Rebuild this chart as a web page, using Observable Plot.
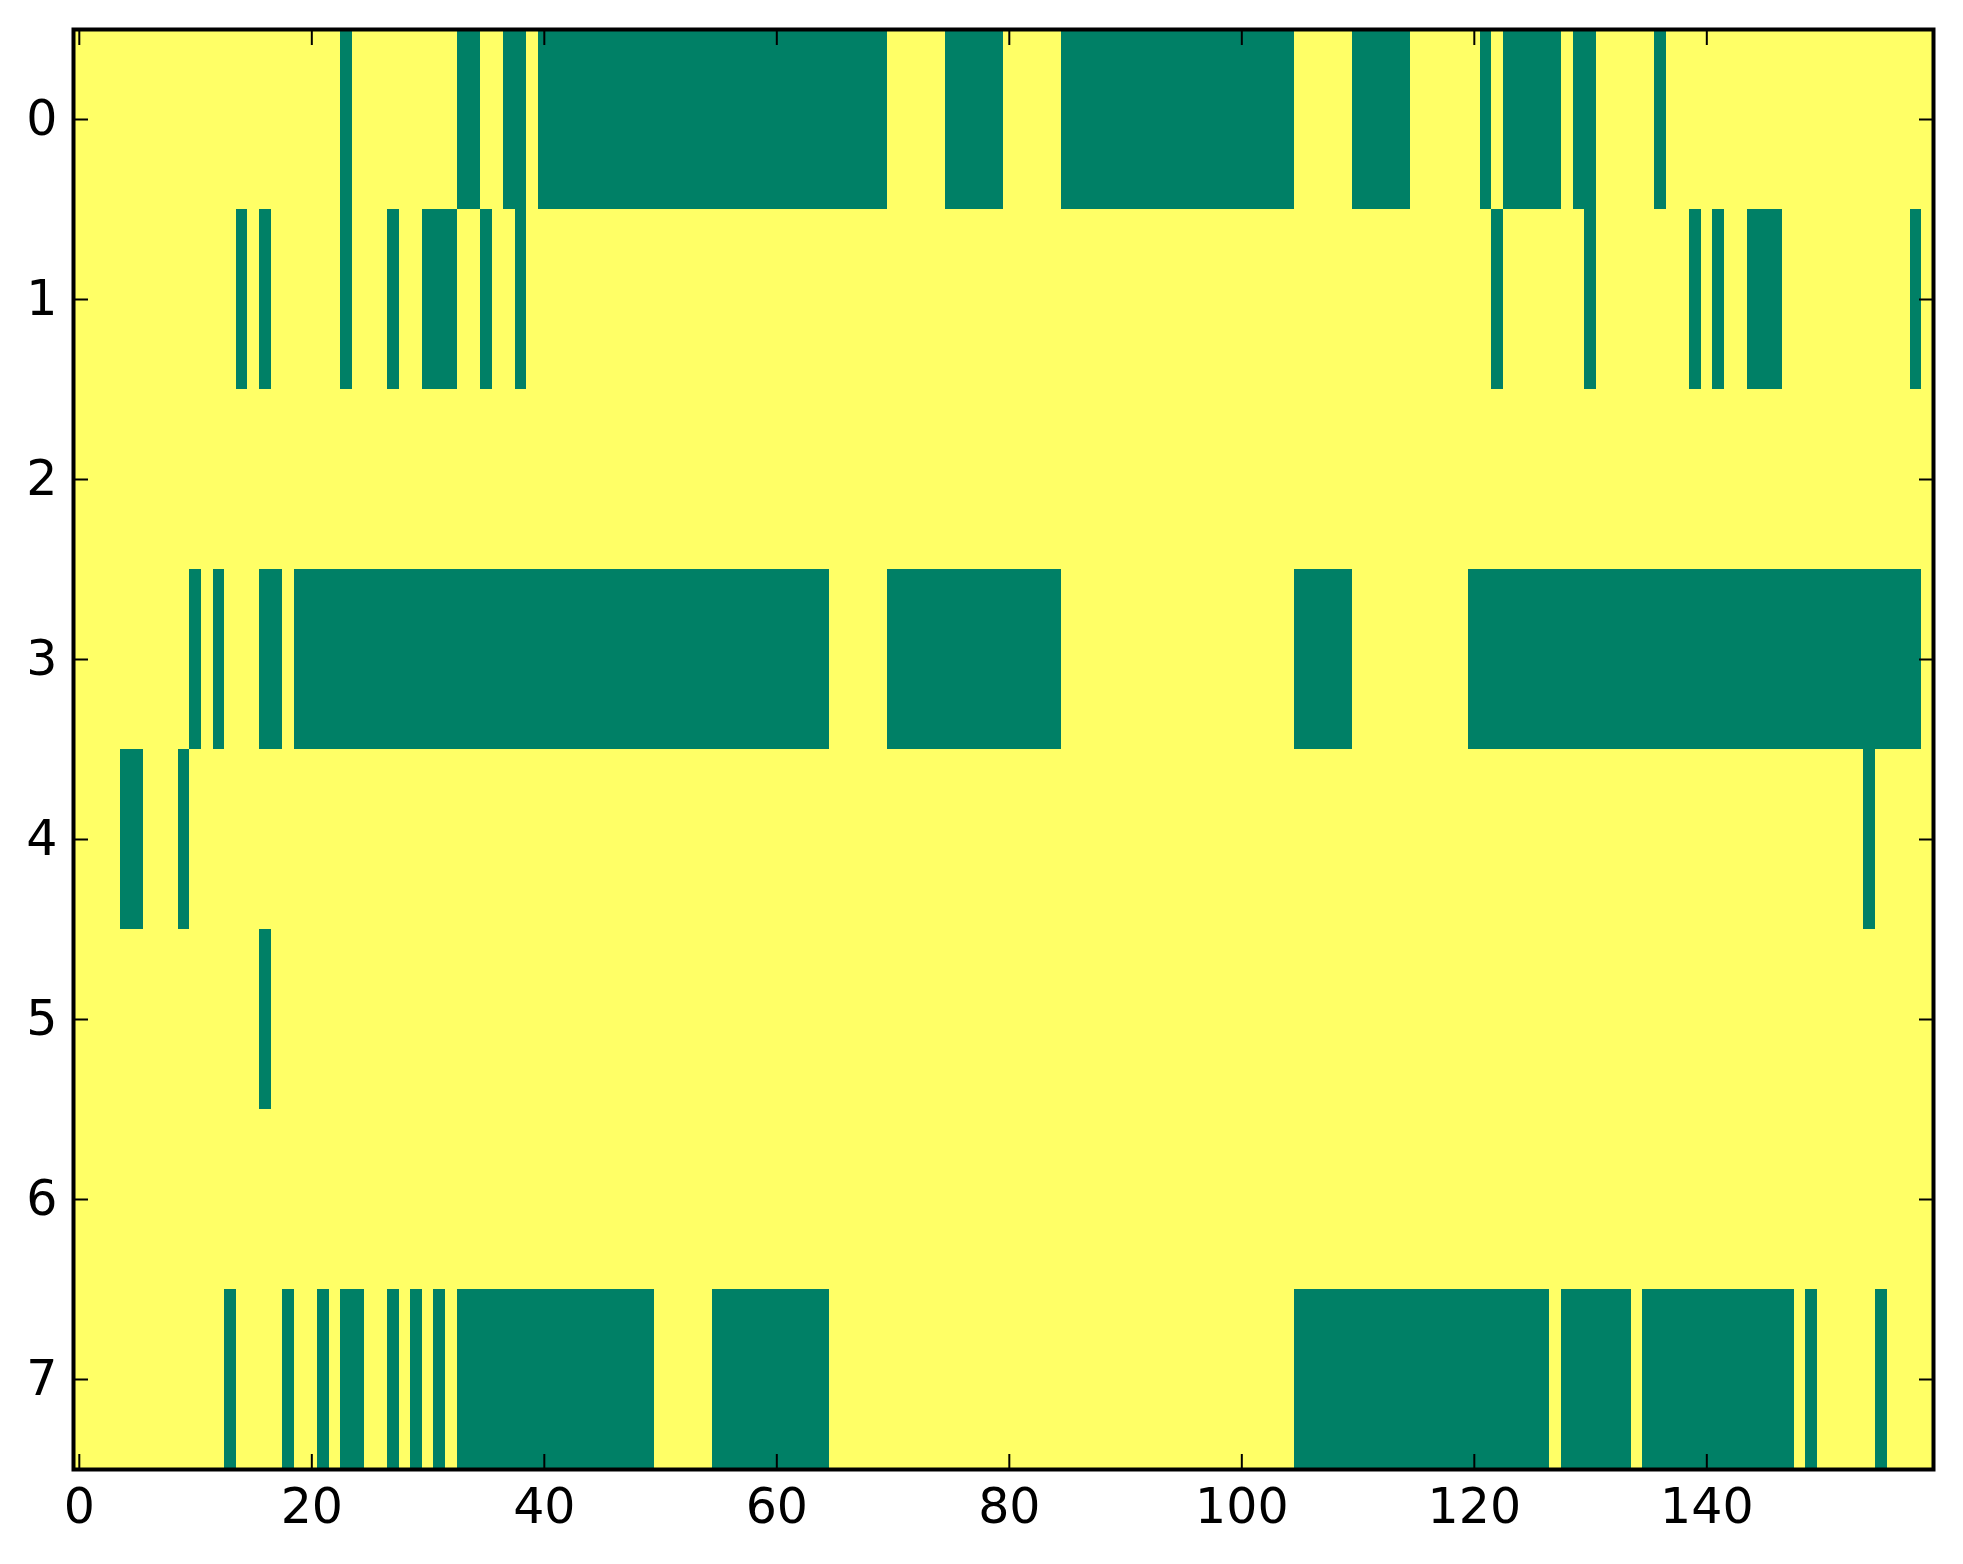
<!DOCTYPE html>
<html>
<head>
<meta charset="utf-8">
<script src="https://cdn.jsdelivr.net/npm/d3@7"></script>
<script src="https://cdn.jsdelivr.net/npm/@observablehq/plot@0.6"></script>
<style>
  html, body { margin: 0; padding: 0; background: #ffffff; }
  #chart svg { display: block; }
</style>
</head>
<body>
<div id="chart"></div>
<script>
// Binary matrix (0 = green, 1 = yellow), 8 rows x 160 columns.
const rowLabels = [0, 1, 2, 3, 4, 5, 6, 7];
const rowBits = [
  "1111111111 1111111111 1110111111 1110011001 0000000000 0000000000 0000000000 1111100000 1111100000 0000000000 0000011111 0000011111 1010000010 0111110111 1111111111 1111111111",
  "1111111111 1111010111 1110111011 0001101101 1111111111 1111111111 1111111111 1111111111 1111111111 1111111111 1111111111 1111111111 1101111111 0111111110 1011000111 1111111101",
  "1111111111 1111111111 1111111111 1111111111 1111111111 1111111111 1111111111 1111111111 1111111111 1111111111 1111111111 1111111111 1111111111 1111111111 1111111111 1111111111",
  "1111111111 0101110010 0000000000 0000000000 0000000000 0000000000 0000011111 0000000000 0000011111 1111111111 1111100000 1111111111 0000000000 0000000000 0000000000 0000000001",
  "1111001110 1111111111 1111111111 1111111111 1111111111 1111111111 1111111111 1111111111 1111111111 1111111111 1111111111 1111111111 1111111111 1111111111 1111111111 1111011111",
  "1111111111 1111110111 1111111111 1111111111 1111111111 1111111111 1111111111 1111111111 1111111111 1111111111 1111111111 1111111111 1111111111 1111111111 1111111111 1111111111",
  "1111111111 1111111111 1111111111 1111111111 1111111111 1111111111 1111111111 1111111111 1111111111 1111111111 1111111111 1111111111 1111111111 1111111111 1111111111 1111111111",
  "1111111111 1110111101 1010011010 1010000000 0000000000 1111100000 0000011111 1111111111 1111111111 1111111111 1111100000 0000000000 0000000100 0000100000 0000000010 1111101111"
];
const xTicks = [0, 20, 40, 60, 80, 100, 120, 140];
const yTicks = [0, 1, 2, 3, 4, 5, 6, 7];
const valueDomain = [0, 1];
const valueColors = ["#008066", "#ffff66"];

const rows = rowBits.map(s => s.replace(/ /g, ""));
const columns = d3.range(rows[0].length);
const cells = [];
rows.forEach((bits, r) => {
  for (let c = 0; c < bits.length; c++) {
    cells.push({row: rowLabels[r], col: columns[c], v: +bits[c]});
  }
});

const chart = Plot.plot({
  width: 1963,
  height: 1564,
  marginLeft: 73,
  marginRight: 30,
  marginTop: 29,
  marginBottom: 95,
  style: {fontFamily: "DejaVu Sans", fontSize: "49px", background: "#ffffff", color: "#000000", overflow: "visible"},
  x: {type: "band", domain: columns, padding: 0, round: false},
  y: {type: "band", domain: rowLabels, padding: 0, round: false},
  color: {type: "ordinal", domain: valueDomain, range: valueColors},
  marks: [
    Plot.cell(cells, {x: "col", y: "row", fill: "v", inset: 0, shapeRendering: "crispEdges"}),
    Plot.axisX(xTicks, {anchor: "bottom", tickSize: -15, tickPadding: 34, strokeWidth: 2, label: null}),
    Plot.axisX(xTicks, {anchor: "top", tickSize: -15, tickPadding: 0, strokeWidth: 2, tickFormat: () => "", label: null}),
    Plot.axisY(yTicks, {anchor: "left", tickSize: -15, tickPadding: 31, strokeWidth: 2, label: null}),
    Plot.axisY(yTicks, {anchor: "right", tickSize: -15, tickPadding: 0, strokeWidth: 2, tickFormat: () => "", label: null}),
    Plot.frame({stroke: "#000000", strokeWidth: 4})
  ]
});
document.getElementById("chart").appendChild(chart);
</script>
</body>
</html>
